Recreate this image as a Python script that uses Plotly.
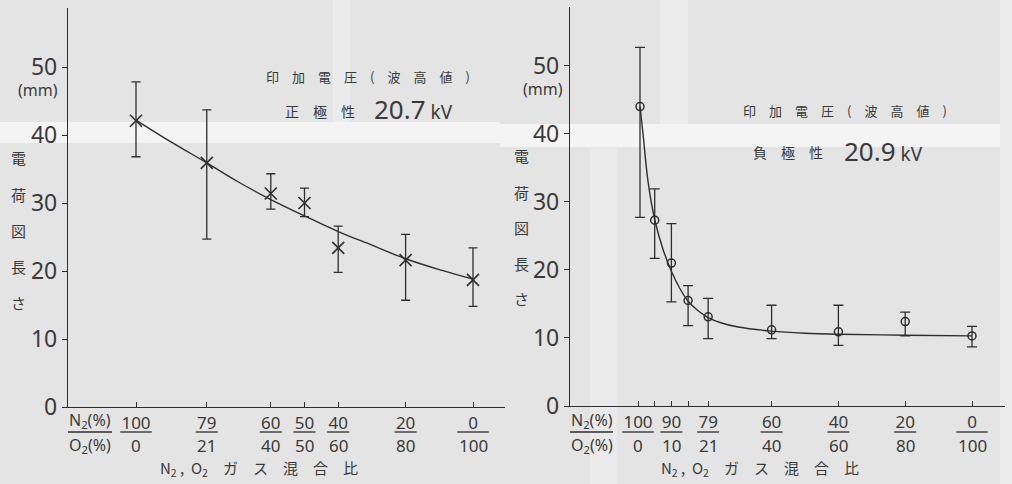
import plotly.graph_objects as go

W, H = 1012, 484

# ---------------- data ----------------
# Left panel: positive polarity 20.7 kV  (x = O2 %)
pos_o2 = [0, 21, 40, 50, 60, 80, 100]
pos_len = [42.1, 35.9, 31.4, 30.0, 23.4, 21.6, 18.7]
pos_hi = [47.8, 43.7, 34.3, 32.2, 26.6, 25.4, 23.4]
pos_lo = [36.8, 24.7, 29.1, 28.0, 19.8, 15.7, 14.8]
pos_fit_x = [0, 10, 21, 30, 40, 50, 60, 70, 80, 90, 100]
pos_fit_y = [42.2, 39.1, 35.9, 33.2, 30.5, 28.1, 25.8, 23.8, 21.8, 20.2, 18.8]

# Right panel: negative polarity 20.9 kV
neg_o2 = [0.6, 5, 10, 15, 21, 40, 60, 80, 100]
neg_len = [44.0, 27.3, 21.0, 15.5, 13.1, 11.2, 10.9, 12.4, 10.3]
neg_hi = [52.7, 31.9, 26.8, 17.7, 15.8, 14.8, 14.8, 13.8, 11.7]
neg_lo = [27.7, 21.7, 15.3, 11.8, 9.9, 9.9, 8.9, 10.3, 8.7]
neg_fit_x = [0.6, 1.5, 3, 5, 7.5, 10, 12.5, 15, 18, 21, 25, 30, 40, 50, 60, 80, 100]
neg_fit_y = [44.0, 40.0, 33.0, 27.4, 23.0, 19.8, 17.3, 15.4, 14.0, 13.0, 12.2, 11.6, 11.0, 10.7, 10.55, 10.4, 10.3]

# tick labels (N2 over O2)
pos_tick_n2 = [100, 79, 60, 50, 40, 20, 0]
pos_tick_o2 = [0, 21, 40, 50, 60, 80, 100]
neg_tick_n2 = [100, 90, 79, 60, 40, 20, 0]
neg_tick_o2 = [0, 10, 21, 40, 60, 80, 100]
neg_minor = [5, 15]
y_ticks = [0, 10, 20, 30, 40, 50]

INK = "#2e2e2e"
TXT = "#3a3a3a"
JP = "Noto Sans CJK JP"
NUM = "Noto Sans"


def fx(p):
    return p / W


def fy(p):
    return 1 - p / H


fig = go.Figure()

# curves
fig.add_trace(go.Scatter(x=pos_fit_x, y=pos_fit_y, mode="lines", line=dict(color=INK, width=1.4, shape="spline"),
                         xaxis="x", yaxis="y", hoverinfo="skip"))
fig.add_trace(go.Scatter(x=neg_fit_x, y=neg_fit_y, mode="lines", line=dict(color=INK, width=1.4, shape="spline"),
                         xaxis="x2", yaxis="y2", hoverinfo="skip"))

# markers with error bars
fig.add_trace(go.Scatter(
    x=pos_o2, y=pos_len, mode="markers", xaxis="x", yaxis="y",
    marker=dict(symbol="x-thin", size=12, line=dict(color=INK, width=1.6), color=INK),
    error_y=dict(type="data", symmetric=False,
                 array=[h - v for h, v in zip(pos_hi, pos_len)],
                 arrayminus=[v - l for v, l in zip(pos_len, pos_lo)],
                 color=INK, thickness=1.3, width=4.5)))
fig.add_trace(go.Scatter(
    x=neg_o2, y=neg_len, mode="markers", xaxis="x2", yaxis="y2",
    marker=dict(symbol="circle-open", size=8, line=dict(color=INK, width=1.5), color=INK),
    error_y=dict(type="data", symmetric=False,
                 array=[h - v for h, v in zip(neg_hi, neg_len)],
                 arrayminus=[v - l for v, l in zip(neg_len, neg_lo)],
                 color=INK, thickness=1.3, width=5)))

# axis geometry
L0, L1 = 68, 505
R0, R1 = 570, 1005
lx_scale, lx_100 = 3.37, 136
rx_scale, rx_100 = 3.34, 638
ly0, ly_scale, ly_top = 407, 6.8, 8
ry0, ry_scale, ry_top = 406, 6.806, 7

xcommon = dict(showgrid=False, zeroline=False, showline=True, linecolor=INK, linewidth=1.4,
               ticks="inside", ticklen=5, tickwidth=1.2, tickcolor=INK, ticklabelstandoff=0,
               tickfont=dict(family=NUM, size=17, color=TXT), tickangle=0, automargin=False)
ycommon = dict(showgrid=False, zeroline=False, showline=True, linecolor=INK, linewidth=1.4,
               ticks="outside", ticklen=5, tickwidth=1.2, tickcolor=INK,
               tickvals=y_ticks, ticktext=[str(v) for v in y_ticks],
               tickfont=dict(family=NUM, size=23, color=TXT), automargin=False, ticklabelstandoff=0)

fig.update_layout(
    width=W, height=H, margin=dict(l=0, r=0, t=0, b=0),
    paper_bgcolor="#e4e4e4", plot_bgcolor="rgba(0,0,0,0)", showlegend=False,
    xaxis=dict(domain=[fx(L0), fx(L1)],
               range=[(L0 - lx_100) / lx_scale, (L1 - lx_100) / lx_scale],
               tickvals=pos_tick_o2, ticktext=[str(v) for v in pos_tick_n2], anchor="y", **xcommon),
    yaxis=dict(domain=[fy(ly0), fy(ly_top)], range=[0, (ly0 - ly_top) / ly_scale], anchor="x", **ycommon),
    xaxis2=dict(domain=[fx(R0), fx(R1)],
                range=[(R0 - rx_100) / rx_scale, (R1 - rx_100) / rx_scale],
                tickvals=neg_tick_o2, ticktext=[str(v) for v in neg_tick_n2], anchor="y2",
                minor=dict(tickmode="array", tickvals=neg_minor, ticks="inside", ticklen=5,
                           tickwidth=1.2, tickcolor=INK, showgrid=False),
                **xcommon),
    yaxis2=dict(domain=[fy(ry0), fy(ry_top)], range=[0, (ry0 - ry_top) / ry_scale], anchor="x2", **ycommon),
)

shapes = []
# background scan tone bands
for (x0, y0, x1, y1, c) in [
    (0, 122, 500, 143, "#f4f4f4"),
    (333, 0, 350, 122, "#ebebeb"),
    (500, 124, 1000, 147, "#f4f4f4"),
    (660, 0, 688, 124, "#ececec"),
    (590, 147, 617, 484, "#eaeaea"),
    (1000, 0, 1012, 484, "#ececec"),
]:
    shapes.append(dict(type="rect", xref="paper", yref="paper", x0=fx(x0), x1=fx(x1), y0=fy(y1), y1=fy(y0),
                       fillcolor=c, line=dict(width=0), layer="below"))

# fraction bars under the top numbers
bar_y = fy(432)
for vals, tops, bots, xr, sc in [(pos_tick_o2, pos_tick_n2, pos_tick_o2, "x", lx_scale),
                                  (neg_tick_o2, neg_tick_n2, neg_tick_o2, "x2", rx_scale)]:
    for v, a, b in zip(vals, tops, bots):
        n = max(len(str(a)), len(str(b)))
        half = (9.5 * n + 3) / 2 / sc
        shapes.append(dict(type="line", xref=xr, yref="paper", x0=v - half, x1=v + half, y0=bar_y, y1=bar_y,
                           line=dict(color=INK, width=1.3)))
# N2(%)/O2(%) bars
for a0, a1 in [(68, 112), (570, 613)]:
    shapes.append(dict(type="line", xref="paper", yref="paper", x0=fx(a0), x1=fx(a1), y0=bar_y, y1=bar_y,
                       line=dict(color=INK, width=1.3)))
fig.update_layout(shapes=shapes)

ann = []


def add_text(x, y, text, size, family=JP, xanchor="center"):
    ann.append(dict(x=fx(x), y=fy(y), xref="paper", yref="paper", text=text, showarrow=False,
                    font=dict(family=family, size=size, color=TXT), xanchor=xanchor, yanchor="middle"))


# denominators (O2 %) under the fraction bars, placed on the axes' own scales
for vals, xr in [(pos_tick_o2, "x"), (neg_tick_o2, "x2")]:
    for v in vals:
        ann.append(dict(x=v, y=fy(445), xref=xr, yref="paper", text=str(v), showarrow=False,
                        font=dict(family=NUM, size=17, color=TXT), xanchor="center", yanchor="middle"))

# N2(%)/O2(%) labels
for cx in [90, 592]:
    add_text(cx, 420, "N<sub>2</sub>(%)", 16, NUM)
    add_text(cx, 445, "O<sub>2</sub>(%)", 16, NUM)

# (mm)
add_text(38, 90, "(mm)", 16, NUM)
add_text(543, 89, "(mm)", 16, NUM)

# vertical y titles
ychars = ["電", "荷", "図", "長", "さ"]
for cx, ys in [(18, [157, 194, 230, 266, 302]), (521, [155, 192, 227, 263, 298])]:
    for ch, yy in zip(ychars, ys):
        add_text(cx, yy, ch, 15, JP)

# x titles
xt = "N<sub>2</sub> ,  O<sub>2</sub>　ガ　ス　混　合　比"
add_text(259, 468, xt, 15, JP)
add_text(760, 468, xt, 15, JP)

# condition labels
add_text(368, 77, "印　加　電　圧　(　波　高　値　)", 13, JP)
add_text(283, 111, "正　極　性", 14, JP, xanchor="left")
add_text(372, 109, "20.7<span style='font-size:19px'> kV</span>", 26, NUM, xanchor="left")

add_text(845, 110, "印　加　電　圧　(　波　高　値　)", 13, JP)
add_text(751, 152, "負　極　性", 14, JP, xanchor="left")
add_text(842, 151, "20.9<span style='font-size:19px'> kV</span>", 26, NUM, xanchor="left")

fig.update_layout(annotations=ann)

fig.write_html("out.html")
